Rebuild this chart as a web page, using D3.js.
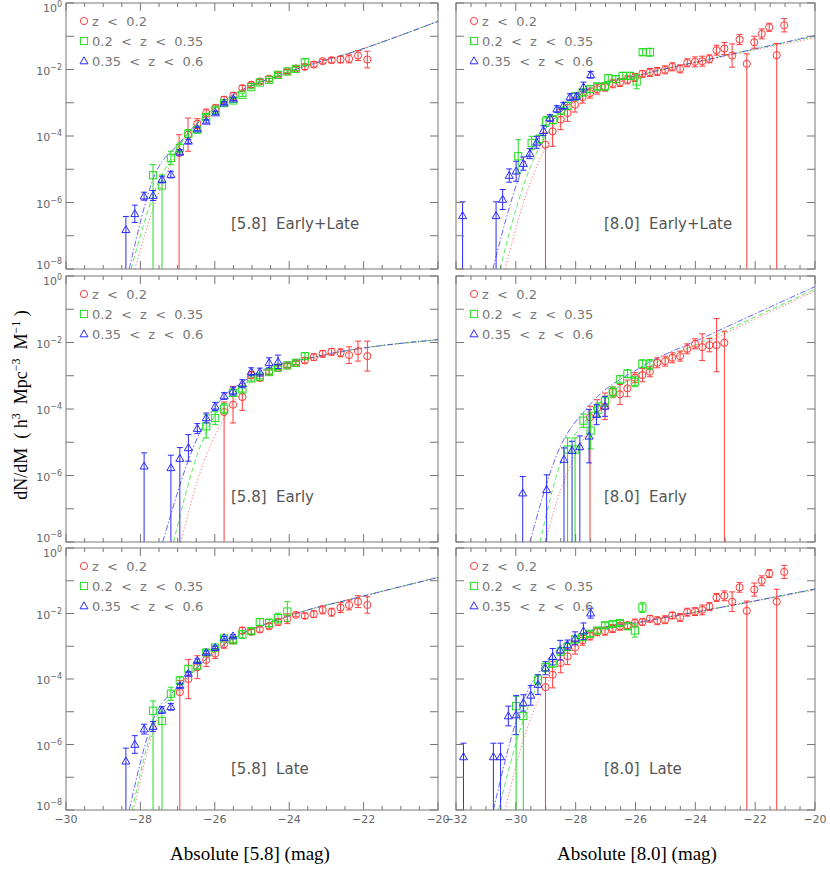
<!DOCTYPE html>
<html><head><meta charset="utf-8">
<script src="https://cdn.jsdelivr.net/npm/d3@7"></script>
<style>body{margin:0;background:#fff}</style></head>
<body><svg id="c" width="830" height="876"></svg>
<script>
// data: [absMag, log10(dN/dM), logErr]  (negative logErr: lower limit reaches bottom, |e| = upper error)
const seriesLabels = ["z < 0.2", "0.2 < z < 0.35", "0.35 < z < 0.6"];
const panelLabels = ["[5.8]  Early+Late","[8.0]  Early+Late","[5.8]  Early","[8.0]  Early","[5.8]  Late","[8.0]  Late"];
const xTicksLeft = [-30,-28,-26,-24,-22,-20];
const xTicksRight = [-32,-30,-28,-26,-24,-22,-20];
const yTicks = [0,-2,-4,-6,-8];

const p1_red=[[-26.96,-4.51,-0.55],[-26.72,-3.96,0.5],[-26.47,-3.63,0.15],[-26.23,-3.31,0.12],[-25.98,-3.16,0.1],[-25.75,-2.91,0.1],[-25.5,-2.79,0.1],[-25.26,-2.56,0.08],[-25.02,-2.46,0.08],[-24.79,-2.36,0.06],[-24.54,-2.28,0.08],[-24.3,-2.16,0.06],[-24.05,-2.06,0.06],[-23.82,-1.97,0.06],[-23.58,-1.92,0.08],[-23.34,-1.85,0.08],[-23.1,-1.75,0.06],[-22.86,-1.72,0.08],[-22.62,-1.7,0.1],[-22.39,-1.68,0.12],[-22.15,-1.58,0.15],[-21.9,-1.7,0.25]];
const p1_green=[[-27.66,-5.18,-0.32],[-27.42,-5.49,-0.32],[-27.18,-4.66,0.2],[-26.94,-4.36,0.15],[-26.71,-3.93,0.12],[-26.47,-3.81,0.1],[-26.23,-3.43,0.08],[-25.98,-3.21,0.06],[-25.75,-3.01,0.06],[-25.5,-2.93,0.06],[-25.26,-2.76,0.05],[-25.02,-2.53,0.05],[-24.79,-2.39,0.04],[-24.54,-2.31,0.04],[-24.3,-2.16,0.04],[-24.05,-2.06,0.04],[-23.82,-1.98,0.05],[-23.58,-1.78,0.1]];
const p1_blue=[[-28.39,-6.82,-0.4],[-28.15,-6.34,0.26],[-27.9,-5.81,0.12],[-27.66,-5.79,0.15],[-27.42,-5.31,0.1],[-27.18,-5.16,0.1],[-26.94,-4.49,0.08],[-26.71,-4.16,0.06],[-26.47,-3.79,0.05],[-26.23,-3.56,0.05],[-25.98,-3.31,0.04],[-25.75,-3.01,0.04],[-25.5,-2.89,0.04]];
const p2_red=[[-29.01,-4.26,-0.35],[-28.77,-3.86,0.45],[-28.5,-3.51,0.3],[-28.27,-3.31,0.25],[-28.02,-3.06,0.22],[-27.77,-2.83,0.18],[-27.52,-2.71,0.15],[-27.28,-2.59,0.15],[-27.02,-2.53,0.12],[-26.76,-2.43,0.12],[-26.52,-2.39,0.12],[-26.27,-2.31,0.12],[-26.02,-2.24,0.12],[-25.77,-2.13,0.1],[-25.52,-2.09,0.12],[-25.27,-2.06,0.12],[-25.01,-2.01,0.12],[-24.77,-1.92,0.12],[-24.51,-1.98,0.12],[-24.27,-1.8,0.12],[-24.01,-1.77,0.15],[-23.77,-1.75,0.15],[-23.53,-1.68,0.12],[-23.29,-1.42,0.15],[-23.03,-1.37,0.18],[-22.77,-1.58,0.35],[-22.52,-1.1,0.15],[-22.28,-1.83,-0.3],[-22.03,-1.18,0.18],[-21.78,-0.93,0.15],[-21.53,-0.73,0.12],[-21.28,-1.57,-0.35],[-21.03,-0.67,0.2]];
const p2_green=[[-29.92,-4.61,0.5],[-29.47,-4.21,0.2],[-29.21,-4.09,0.12],[-28.99,-3.56,0.15],[-28.75,-3.51,0.12],[-28.5,-3.24,0.1],[-28.27,-3.09,0.1],[-28.02,-2.81,0.1],[-27.77,-2.69,0.1],[-27.52,-2.59,0.1],[-27.28,-2.51,0.1],[-27.02,-2.51,0.1],[-26.91,-2.26,0.1],[-26.66,-2.29,0.1],[-26.43,-2.19,0.1],[-26.18,-2.19,0.1],[-25.96,-2.36,0.22],[-25.76,-1.48,0.1],[-25.52,-1.48,0.12]];
const p2_blue=[[-31.78,-6.4,-0.42],[-30.66,-6.4,-0.42],[-30.44,-5.91,0.3],[-30.22,-5.19,0.2],[-29.99,-5.06,0.3],[-29.75,-4.83,0.2],[-29.53,-4.53,0.15],[-29.3,-4.19,0.18],[-29.08,-3.84,0.15],[-28.86,-3.46,0.1],[-28.63,-3.19,0.1],[-28.41,-3.09,0.1],[-28.19,-2.83,0.1],[-27.97,-2.81,0.1],[-27.74,-2.53,0.15],[-27.5,-2.16,0.1]];
const p3_red=[[-25.75,-4.09,-0.3],[-25.51,-3.87,0.55],[-25.26,-3.64,0.4],[-25.02,-2.98,0.1],[-24.79,-3.06,0.1],[-24.54,-2.88,0.08],[-24.3,-2.76,0.06],[-24.05,-2.69,0.06],[-23.82,-2.61,0.06],[-23.58,-2.54,0.08],[-23.34,-2.44,0.1],[-23.1,-2.34,0.1],[-22.86,-2.28,0.1],[-22.62,-2.31,0.12],[-22.39,-2.38,0.25],[-22.15,-2.26,0.3],[-21.9,-2.41,0.45]];
const p3_green=[[-26.23,-4.52,0.35],[-25.99,-4.27,0.2],[-25.75,-3.99,0.15],[-25.51,-3.51,0.1],[-25.26,-3.41,0.08],[-25.02,-3.08,0.08],[-24.79,-3.03,0.06],[-24.54,-2.89,0.06],[-24.3,-2.76,0.05],[-24.05,-2.69,0.05],[-23.82,-2.61,0.05],[-23.58,-2.41,0.1]];
const p3_blue=[[-27.9,-5.72,-0.4],[-27.18,-5.77,-0.38],[-26.94,-5.49,-0.33],[-26.71,-5.17,0.4],[-26.47,-4.59,0.15],[-26.23,-4.27,0.15],[-25.99,-3.92,0.12],[-25.75,-3.61,0.1],[-25.51,-3.46,0.12],[-25.26,-3.24,0.12],[-25.02,-2.88,0.12],[-24.79,-2.89,0.12],[-24.54,-2.61,0.15],[-24.3,-2.58,0.2]];
const p4_red=[[-27.52,-4.25,-0.33],[-27.28,-3.97,0.25],[-27.02,-3.92,0.4],[-26.76,-3.49,0.15],[-26.52,-3.56,0.3],[-26.27,-3.38,0.25],[-26.02,-3.06,0.15],[-25.77,-2.98,0.2],[-25.52,-2.88,0.15],[-25.27,-2.61,0.15],[-25.01,-2.56,0.15],[-24.77,-2.46,0.15],[-24.51,-2.41,0.15],[-24.27,-2.19,0.15],[-24.01,-2.04,0.15],[-23.77,-2.14,0.4],[-23.53,-2.08,0.2],[-23.29,-2.08,0.8],[-23.03,-2.01,-0.35]];
const p4_green=[[-28.27,-5.22,-0.35],[-28.02,-5.22,-0.35],[-27.74,-4.35,0.2],[-27.5,-4.65,0.55],[-27.25,-4.02,0.2],[-27.02,-3.77,0.15],[-26.76,-3.49,0.15],[-26.52,-3.11,0.12],[-26.27,-2.94,0.12],[-26.02,-3.18,0.15],[-25.77,-2.64,0.12],[-25.52,-2.66,0.15]];
const p4_blue=[[-29.77,-6.53,-0.5],[-28.97,-6.43,-0.45],[-28.39,-5.52,-0.35],[-28.12,-5.25,-0.28],[-27.86,-5.14,-0.33],[-27.55,-4.82,0.8],[-27.3,-4.17,0.3],[-27.02,-3.92,0.3]];
const p5_red=[[-26.94,-4.4,-0.35],[-26.71,-4.0,0.6],[-26.47,-3.64,0.35],[-26.23,-3.42,0.2],[-25.99,-3.22,0.15],[-25.75,-2.94,0.12],[-25.51,-2.82,0.1],[-25.26,-2.52,0.1],[-25.02,-2.56,0.08],[-24.79,-2.49,0.08],[-24.54,-2.39,0.08],[-24.3,-2.26,0.1],[-24.05,-2.16,0.15],[-23.82,-2.04,0.06],[-23.58,-2.07,0.08],[-23.34,-2.02,0.1],[-23.1,-1.89,0.12],[-22.86,-1.96,0.12],[-22.62,-1.82,0.15],[-22.39,-1.74,0.15],[-22.15,-1.64,0.18],[-21.9,-1.74,0.25]];
const p5_green=[[-27.66,-4.97,-0.3],[-27.42,-5.28,-0.3],[-27.18,-4.45,0.2],[-26.94,-4.05,0.12],[-26.71,-3.69,0.1],[-26.47,-3.59,0.1],[-26.23,-3.19,0.08],[-25.99,-3.04,0.06],[-25.75,-2.76,0.06],[-25.51,-2.82,0.06],[-25.26,-2.64,0.12],[-25.02,-2.54,0.08],[-24.79,-2.26,0.1],[-24.54,-2.29,0.12],[-24.3,-2.14,0.15],[-24.05,-1.94,0.3]];
const p5_blue=[[-28.39,-6.51,-0.4],[-28.15,-6.0,0.27],[-27.9,-5.53,0.15],[-27.66,-5.45,0.15],[-27.42,-4.95,0.1],[-27.18,-4.85,0.1],[-26.94,-4.2,0.06],[-26.71,-3.83,0.05],[-26.47,-3.44,0.05],[-26.23,-3.19,0.05],[-25.99,-3.04,0.04],[-25.75,-2.74,0.04],[-25.51,-2.69,0.04]];
const p6_red=[[-29.01,-4.25,-0.3],[-28.77,-3.87,0.4],[-28.5,-3.51,0.3],[-28.27,-3.31,0.25],[-28.02,-3.04,0.2],[-27.77,-2.82,0.15],[-27.52,-2.69,0.12],[-27.28,-2.56,0.12],[-27.02,-2.54,0.12],[-26.76,-2.46,0.12],[-26.52,-2.39,0.12],[-26.27,-2.36,0.1],[-26.02,-2.29,0.12],[-25.77,-2.26,0.1],[-25.52,-2.16,0.1],[-25.27,-2.22,0.12],[-25.01,-2.19,0.12],[-24.77,-2.06,0.1],[-24.51,-2.12,0.12],[-24.27,-1.96,0.12],[-24.01,-1.94,0.12],[-23.77,-1.89,0.15],[-23.53,-1.79,0.12],[-23.29,-1.51,0.12],[-23.03,-1.46,0.15],[-22.77,-1.64,0.3],[-22.52,-1.2,0.15],[-22.28,-1.92,-0.3],[-22.03,-1.27,0.2],[-21.78,-1.0,0.15],[-21.53,-0.78,0.12],[-21.28,-1.64,-0.38],[-21.03,-0.73,0.2]];
const p6_green=[[-29.99,-4.83,-0.3],[-29.75,-5.13,-0.3],[-29.26,-4.02,0.15],[-29.01,-3.64,0.12],[-28.77,-3.52,0.12],[-28.5,-3.16,0.12],[-28.27,-3.02,0.1],[-28.02,-2.79,0.1],[-27.77,-2.72,0.1],[-27.52,-2.62,0.08],[-27.28,-2.52,0.08],[-27.02,-2.36,0.08],[-26.76,-2.32,0.08],[-26.52,-2.29,0.08],[-26.27,-2.39,0.1],[-26.02,-2.52,0.2],[-25.77,-1.82,0.15]];
const p6_blue=[[-31.75,-6.38,-0.42],[-30.75,-6.38,-0.42],[-30.51,-6.38,-0.42],[-30.25,-5.13,0.3],[-29.99,-5.1,0.6],[-29.75,-4.73,0.25],[-29.5,-4.5,0.3],[-29.26,-4.17,0.3],[-29.01,-3.67,0.2],[-28.77,-3.32,0.25],[-28.52,-3.12,0.3],[-28.27,-2.96,0.15],[-28.02,-2.76,0.2],[-27.74,-2.54,0.25],[-27.5,-1.99,0.15]];

// model fits [absMag, log10]
const f1_red=[[-28.15,-8],[-27.6,-6],[-26.94,-4.3],[-25.75,-2.98],[-24.05,-2.09],[-22.08,-1.4],[-20,-0.55]];
const f1_green=[[-28.25,-8],[-27.66,-5.8],[-26.94,-4.25],[-25.75,-2.95],[-24.05,-2.09],[-22.08,-1.4],[-20,-0.55]];
const f1_blue=[[-28.3,-8],[-27.66,-5.3],[-26.94,-4.2],[-25.75,-2.94],[-24.05,-2.09],[-22.08,-1.4],[-20,-0.55]];
const f2_red=[[-30.36,-8],[-29.75,-6.02],[-29.2,-4.71],[-28.63,-3.81],[-27.52,-2.81],[-25.85,-2.2],[-23.6,-1.72],[-20,-1.05]];
const f2_green=[[-30.53,-8],[-29.75,-5.51],[-29.2,-4.31],[-28.63,-3.55],[-27.52,-2.65],[-25.85,-2.17],[-23.6,-1.7],[-20,-1.0]];
const f2_blue=[[-30.77,-8],[-29.75,-4.91],[-29.2,-4.01],[-28.63,-3.41],[-27.52,-2.56],[-25.85,-2.16],[-23.6,-1.7],[-20,-0.98]];
const f3_red=[[-26.91,-8],[-26.47,-6.17],[-25.75,-4.27],[-25.26,-3.46],[-24.77,-3.0],[-23.43,-2.5],[-20,-1.93]];
const f3_green=[[-27.11,-8],[-26.47,-5.37],[-25.75,-3.77],[-25.26,-3.3],[-24.77,-2.9],[-23.43,-2.47],[-20,-1.92]];
const f3_blue=[[-27.4,-8],[-26.47,-4.87],[-25.75,-3.61],[-25.26,-3.2],[-24.77,-2.86],[-23.43,-2.46],[-20,-1.91]];
const f4_red=[[-29.02,-8],[-28.63,-6.78],[-27.52,-4.57],[-25.85,-3.06],[-23.62,-2.01],[-20,-0.45]];
const f4_green=[[-29.19,-8],[-28.63,-5.97],[-27.52,-4.17],[-25.85,-2.91],[-23.62,-1.92],[-20,-0.4]];
const f4_blue=[[-29.53,-8],[-28.63,-5.37],[-27.52,-3.87],[-25.85,-2.76],[-23.62,-1.81],[-20,-0.32]];
const f5_red=[[-28.17,-8],[-27.66,-5.6],[-26.94,-4.3],[-25.75,-2.98],[-24.05,-2.09],[-22.08,-1.49],[-20,-0.9]];
const f5_green=[[-28.22,-8],[-27.66,-5.45],[-26.94,-4.25],[-25.75,-2.96],[-24.05,-2.09],[-22.08,-1.49],[-20,-0.9]];
const f5_blue=[[-28.3,-8],[-27.66,-5.25],[-26.94,-4.2],[-25.75,-2.94],[-24.05,-2.09],[-22.08,-1.49],[-20,-0.9]];
const f6_red=[[-30.36,-8],[-29.75,-5.85],[-29.2,-4.55],[-28.63,-3.65],[-27.52,-2.69],[-25.85,-2.28],[-23.6,-1.9],[-20,-1.28]];
const f6_green=[[-30.58,-8],[-29.75,-5.25],[-29.2,-4.05],[-28.63,-3.3],[-27.52,-2.55],[-25.85,-2.26],[-23.6,-1.89],[-20,-1.26]];
const f6_blue=[[-30.75,-8],[-29.75,-4.65],[-29.2,-3.75],[-28.63,-3.11],[-27.52,-2.52],[-25.85,-2.26],[-23.6,-1.89],[-20,-1.25]];

const panels=[
 {pts:[p1_red,p1_green,p1_blue],fit:[f1_red,f1_green,f1_blue],col:0,row:0},
 {pts:[p2_red,p2_green,p2_blue],fit:[f2_red,f2_green,f2_blue],col:1,row:0},
 {pts:[p3_red,p3_green,p3_blue],fit:[f3_red,f3_green,f3_blue],col:0,row:1},
 {pts:[p4_red,p4_green,p4_blue],fit:[f4_red,f4_green,f4_blue],col:1,row:1},
 {pts:[p5_red,p5_green,p5_blue],fit:[f5_red,f5_green,f5_blue],col:0,row:2},
 {pts:[p6_red,p6_green,p6_blue],fit:[f6_red,f6_green,f6_blue],col:1,row:2}];

const colors=["#ff3a3a","#22dd22","#2a2aff"];
const dashes=["1.2,2.2","5,3","6,2,1.5,2"];
const cols=[[66,438],[456,815]];
const rows=[[3,269],[276,542],[548,810]];
const svg=d3.select("#c");
const GRAY="#777";

function sym(g,i,x,y,c){
  if(i===0) g.append("circle").attr("cx",x).attr("cy",y).attr("r",3.6).attr("fill","none").attr("stroke",c).attr("stroke-width",1);
  else if(i===1) g.append("rect").attr("x",x-3.6).attr("y",y-3.6).attr("width",7.2).attr("height",7.2).attr("fill","none").attr("stroke",c).attr("stroke-width",1);
  else g.append("path").attr("d",`M${x},${y-4.2}L${x+4},${y+2.8}L${x-4},${y+2.8}Z`).attr("fill","none").attr("stroke",c).attr("stroke-width",1);
}

panels.forEach((p,pi)=>{
  const [x0,x1]=cols[p.col],[y0,y1]=rows[p.row];
  const xd=p.col===0?[-30,-20]:[-32,-20];
  const x=d3.scaleLinear().domain(xd).range([x0,x1]);
  const y=d3.scaleLinear().domain([-8,0]).range([y1,y0]);
  const g=svg.append("g");
  const clip="cl"+pi;
  g.append("clipPath").attr("id",clip).append("rect").attr("x",x0).attr("y",y0).attr("width",x1-x0).attr("height",y1-y0);
  const inner=g.append("g").attr("clip-path",`url(#${clip})`);
  p.fit.forEach((f,i)=>{
    inner.append("path").attr("d",d3.line().x(d=>x(d[0])).y(d=>y(d[1])).curve(d3.curveMonotoneX)(f))
      .attr("fill","none").attr("stroke",colors[i]).attr("stroke-width",0.9).attr("stroke-dasharray",dashes[i]).attr("opacity",0.8);
  });
  p.pts.forEach((s,i)=>{
    s.forEach(d=>{
      const e=Math.abs(d[2]);
      const lo=d[2]<0?-8.2:d[1]-e, hi=d[1]+e;
      inner.append("line").attr("x1",x(d[0])).attr("x2",x(d[0])).attr("y1",y(lo)).attr("y2",y(hi)).attr("stroke",colors[i]).attr("stroke-width",1);
      inner.append("line").attr("x1",x(d[0])-3).attr("x2",x(d[0])+3).attr("y1",y(hi)).attr("y2",y(hi)).attr("stroke",colors[i]).attr("stroke-width",1);
      if(d[2]>=0) inner.append("line").attr("x1",x(d[0])-3).attr("x2",x(d[0])+3).attr("y1",y(lo)).attr("y2",y(lo)).attr("stroke",colors[i]).attr("stroke-width",1);
      sym(inner,i,x(d[0]),y(d[1]),colors[i]);
    });
  });
  g.append("rect").attr("x",x0).attr("y",y0).attr("width",x1-x0).attr("height",y1-y0).attr("fill","none").attr("stroke",GRAY).attr("stroke-width",1);
  for(let v=xd[0];v<=xd[1];v+=0.5){
    const L=(Math.abs(v%2)<1e-9)?8:4;
    g.append("line").attr("x1",x(v)).attr("x2",x(v)).attr("y1",y1).attr("y2",y1-L).attr("stroke",GRAY);
    g.append("line").attr("x1",x(v)).attr("x2",x(v)).attr("y1",y0).attr("y2",y0+L).attr("stroke",GRAY);
  }
  for(let v=-8;v<=0;v++){
    g.append("line").attr("x1",x0).attr("x2",x0+8).attr("y1",y(v)).attr("y2",y(v)).attr("stroke",GRAY);
    g.append("line").attr("x1",x1).attr("x2",x1-8).attr("y1",y(v)).attr("y2",y(v)).attr("stroke",GRAY);
  }
  if(p.col===0){
    yTicks.forEach(v=>{
      const off=v===0?9:(v===-8?0:5);
      const t=g.append("text").attr("x",x0-4).attr("y",y(v)+off).attr("text-anchor","end").attr("font-family","DejaVu Sans").attr("font-size",11).attr("fill","#666");
      t.append("tspan").text("10");
      t.append("tspan").attr("dy",-5).attr("font-size",8).text(v===0?"0":"\u2212"+(-v));
    });
  }
  if(p.row===2){
    (p.col===0?xTicksLeft:xTicksRight).forEach(v=>{
      g.append("text").attr("x",x(v)).attr("y",y1+13).attr("text-anchor","middle").attr("font-family","DejaVu Sans").attr("font-size",11).attr("fill","#666").text("\u2212"+(-v));
    });
  }
  seriesLabels.forEach((s,i)=>{
    const ly=y0+22+i*20;
    sym(g,i,x0+18,ly-4,colors[i]);
    g.append("text").attr("x",x0+26).attr("y",ly+1).attr("font-family","DejaVu Sans").attr("font-size",13).attr("fill",GRAY).attr("xml:space","preserve").text(s.replace(/ /g,"  "));
  });
  g.append("text").attr("x",p.col===0?x0+165:x0+148).attr("y",y0+226).attr("font-family","DejaVu Sans").attr("font-size",15).attr("fill","#555").attr("xml:space","preserve").text(panelLabels[pi]);
});

svg.append("text").attr("x",250).attr("y",860).attr("text-anchor","middle").attr("font-family","Liberation Serif").attr("font-size",19).text("Absolute [5.8] (mag)");
svg.append("text").attr("x",637).attr("y",860).attr("text-anchor","middle").attr("font-family","Liberation Serif").attr("font-size",19).text("Absolute [8.0] (mag)");
const yt=svg.append("text").attr("transform","translate(27,405) rotate(-90)").attr("text-anchor","middle").attr("font-family","Liberation Serif").attr("font-size",18).attr("xml:space","preserve");
yt.append("tspan").text("dN/dM  ( h");
yt.append("tspan").attr("dy",-7).attr("font-size",12).text("3");
yt.append("tspan").attr("dy",7).text("  Mpc");
yt.append("tspan").attr("dy",-7).attr("font-size",12).text("\u22123");
yt.append("tspan").attr("dy",7).text("  M");
yt.append("tspan").attr("dy",-7).attr("font-size",12).text("\u22121");
yt.append("tspan").attr("dy",7).text(" )");
</script></body></html>
